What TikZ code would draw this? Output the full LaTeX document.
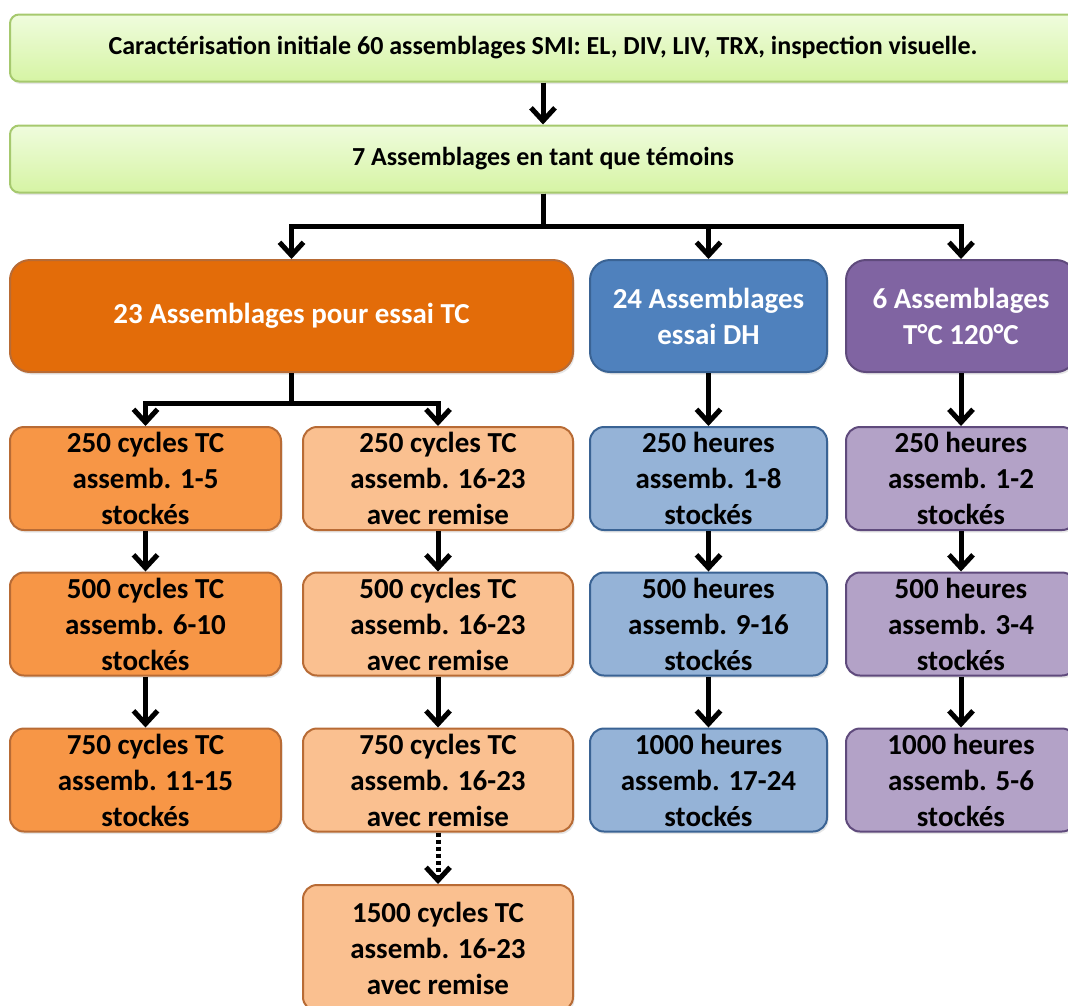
\documentclass[tikz,border=0pt]{standalone}
\usepackage{fontspec}
\setmainfont{Carlito}
\usepackage{tikz}
\usetikzlibrary{arrows.meta,shadows}
\definecolor{gnTop}{HTML}{EFFCDD}
\definecolor{gnBot}{HTML}{D6F4A4}
\definecolor{gnLine}{HTML}{A6C96E}
\definecolor{orA1}{HTML}{E36C09}
\definecolor{orA2}{HTML}{F79646}
\definecolor{orA3}{HTML}{FAC090}
\definecolor{orLine}{HTML}{B86B35}
\definecolor{blA1}{HTML}{4F81BD}
\definecolor{blA2}{HTML}{95B3D7}
\definecolor{blLine}{HTML}{3A6394}
\definecolor{vuA1}{HTML}{8064A2}
\definecolor{vuA2}{HTML}{B3A2C7}
\definecolor{vuLine}{HTML}{5F4A7C}
\begin{document}
\begin{tikzpicture}[x=1pt,y=-1pt,
  box/.style={draw,line width=2pt,rounded corners=14pt,align=center,inner sep=0pt,
    font=\fontsize{29}{36}\selectfont\bfseries,
    drop shadow={opacity=0.2,shadow xshift=1.5pt,shadow yshift=-2.5pt}},
  topbox/.style={box,draw=gnLine,top color=gnTop,bottom color=gnBot,rounded corners=9pt,
    minimum width=1066pt,minimum height=67pt,font=\fontsize{26}{30}\selectfont\bfseries},
  headbox/.style={box,text=white,rounded corners=20pt,minimum height=112pt},
  cellbox/.style={box,minimum height=103pt},
  arr/.style={line width=5pt,-{Straight Barb[length=13pt,width=24pt]}}]
\useasboundingbox (0,0) rectangle (1068,1005);
% top of the chart
\node[topbox] (init) at (543,48) {Caractérisation initiale 60 assemblages SMI: EL, DIV, LIV, TRX, inspection visuelle.};
\node[topbox] (temoin) at (543,159) {7 Assemblages en tant que témoins};
\node[headbox,fill=orA1,draw=orLine,minimum width=563pt] (tc) at (291.5,316) {23 Assemblages pour essai TC};
\node[headbox,fill=blA1,draw=blLine,minimum width=237pt] (dh) at (708.5,316) {24 Assemblages\\essai DH};
\node[headbox,fill=vuA1,draw=vuLine,minimum width=230pt] (tt) at (961,316) {6 Assemblages\\T°C 120°C};
% TC stored
\node[cellbox,fill=orA2,draw=orLine,minimum width=271pt] (a1) at (145.5,478.5) {250 cycles TC\\assemb. 1-5\\stockés};
\node[cellbox,fill=orA2,draw=orLine,minimum width=271pt] (a2) at (145.5,624) {500 cycles TC\\assemb. 6-10\\stockés};
\node[cellbox,fill=orA2,draw=orLine,minimum width=271pt] (a3) at (145.5,780) {750 cycles TC\\assemb. 11-15\\stockés};
% TC with return
\node[cellbox,fill=orA3,draw=orLine,minimum width=270pt] (b1) at (438,478.5) {250 cycles TC\\assemb. 16-23\\avec remise};
\node[cellbox,fill=orA3,draw=orLine,minimum width=270pt] (b2) at (438,624) {500 cycles TC\\assemb. 16-23\\avec remise};
\node[cellbox,fill=orA3,draw=orLine,minimum width=270pt] (b3) at (438,780) {750 cycles TC\\assemb. 16-23\\avec remise};
\node[cellbox,fill=orA3,draw=orLine,minimum width=270pt,minimum height=126pt] (b4) at (438,948) {1500 cycles TC\\assemb. 16-23\\avec remise};
% DH
\node[cellbox,fill=blA2,draw=blLine,minimum width=237pt] (c1) at (708.5,478.5) {250 heures\\assemb. 1-8\\stockés};
\node[cellbox,fill=blA2,draw=blLine,minimum width=237pt] (c2) at (708.5,624) {500 heures\\assemb. 9-16\\stockés};
\node[cellbox,fill=blA2,draw=blLine,minimum width=237pt] (c3) at (708.5,780) {1000 heures\\assemb. 17-24\\stockés};
% 120 C
\node[cellbox,fill=vuA2,draw=vuLine,minimum width=230pt] (d1) at (961,478.5) {250 heures\\assemb. 1-2\\stockés};
\node[cellbox,fill=vuA2,draw=vuLine,minimum width=230pt] (d2) at (961,624) {500 heures\\assemb. 3-4\\stockés};
\node[cellbox,fill=vuA2,draw=vuLine,minimum width=230pt] (d3) at (961,780) {1000 heures\\assemb. 5-6\\stockés};
% arrows
\draw[arr] (init.south) -- (temoin.north);
\draw[arr] (temoin.south) -- ++(0,33) -| (tc.north);
\draw[arr] (temoin.south) -- ++(0,33) -| (dh.north);
\draw[arr] (temoin.south) -- ++(0,33) -| (tt.north);
\draw[arr] (tc.south) -- ++(0,30) -| (a1.north);
\draw[arr] (tc.south) -- ++(0,30) -| (b1.north);
\draw[arr] (a1) -- (a2);\draw[arr] (a2) -- (a3);
\draw[arr] (b1) -- (b2);\draw[arr] (b2) -- (b3);
\draw[arr,dash pattern=on 4pt off 3pt] (b3) -- (b4);
\draw[arr] (dh) -- (c1);\draw[arr] (c1) -- (c2);\draw[arr] (c2) -- (c3);
\draw[arr] (tt) -- (d1);\draw[arr] (d1) -- (d2);\draw[arr] (d2) -- (d3);
\end{tikzpicture}
\end{document}
